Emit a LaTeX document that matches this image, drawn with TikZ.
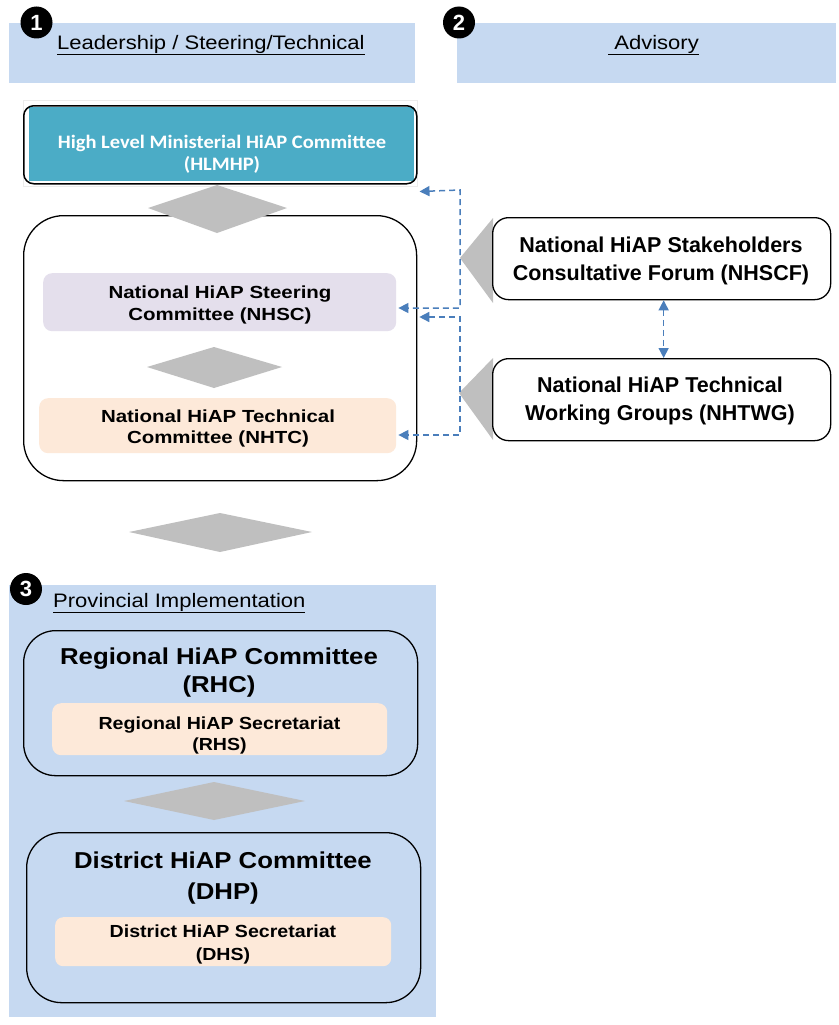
\documentclass[tikz,border=0pt]{standalone}
\usepackage{fontspec}
\setmainfont{Liberation Sans}
\newfontfamily\hdrfont[FakeStretch=1.13]{Liberation Sans}
\newfontfamily\natfont[FakeStretch=1.17]{Liberation Sans}
\newfontfamily\regfont[FakeStretch=1.12]{Liberation Sans}
\newfontfamily\calfont[FakeStretch=1.08]{Carlito}
\usetikzlibrary{arrows.meta,calc}
\definecolor{hdrblue}{HTML}{C6D9F1}
\definecolor{tealfill}{HTML}{4BACC6}
\definecolor{lavfill}{HTML}{E4DFEC}
\definecolor{peachfill}{HTML}{FDE9D9}
\definecolor{dgray}{HTML}{BFBFBF}
\definecolor{cblue}{HTML}{4A7EBB}
\begin{document}
\begin{tikzpicture}[x=1pt,y=-1pt,
  hdrbox/.style={fill=hdrblue, draw=none, inner sep=0, anchor=north west},
  badge/.style={circle, fill=black, text=white, inner sep=0, minimum size=32,
    font=\fontsize{22}{22}\selectfont\bfseries},
  frame/.style={draw=black, line width=1.3pt, inner sep=0, anchor=north west},
  softbox/.style={draw=none, inner sep=0, anchor=north west, rounded corners=9},
  lbl/.style={align=center, inner sep=0},
  dgm/.style={fill=dgray},
  conn/.style={draw=cblue, line width=1.5pt, dash pattern=on 6pt off 4pt,
    {Triangle[length=10pt,width=10pt]}-{Triangle[length=10pt,width=10pt]}},
]
\useasboundingbox (0,0) rectangle (838,1025);

% ---------- headers ----------
\node[hdrbox, minimum width=406, minimum height=60] (h1) at (9,23) {};
\node[hdrbox, minimum width=379, minimum height=60] (h2) at (457,23) {};
\node[anchor=base west, inner sep=0, font=\hdrfont\fontsize{19.5}{22}\selectfont] (h1t) at (57,49) {\underline{Leadership / Steering/Technical}};
\node[anchor=base west, inner sep=0, font=\hdrfont\fontsize{19.5}{22}\selectfont] (h2t) at (608,49) {\underline{ Advisory}};
\node[badge] (b1) at (36.5,22.5) {1};
\node[badge] (b2) at (459,22.5) {2};

% ---------- HLMHP ----------
\node[draw=gray!15, fill=white, line width=0.6pt, inner sep=0, anchor=north west,
  minimum width=394, minimum height=86] (hlback) at (23,100) {};
\fill[tealfill] (29,107) rectangle (414,181);
\node[frame, rounded corners=10, line width=1.5pt, minimum width=393, minimum height=78] (hl) at (23,105) {};
\node[lbl, text=white, font=\calfont\bfseries\fontsize{19}{22}\selectfont] (hlt) at (222,154)
  {High Level Ministerial HiAP Committee\\(HLMHP)};

% ---------- national box ----------
\node[frame, fill=white, rounded corners=40, minimum width=393, minimum height=265] (big) at (23,215) {};
\node[softbox, fill=lavfill, minimum width=353, minimum height=58] (nhsc) at (43,273) {};
\node[lbl, font=\natfont\bfseries\fontsize{17.5}{22}\selectfont] (nhsct) at (220,304.5)
  {National HiAP Steering\\Committee (NHSC)};
\node[softbox, fill=peachfill, minimum width=357, minimum height=55] (nhtc) at (39,398) {};
\node[lbl, font=\natfont\bfseries\fontsize{17.5}{21}\selectfont] (nhtct) at (218,428)
  {National HiAP Technical\\Committee (NHTC)};

\fill[dgm] (148,208) -- (217,185) -- (287,208) -- (217,233) -- cycle;
\fill[dgm] (147,367) -- (214,347) -- (282,367) -- (214,388) -- cycle;
\fill[dgm] (129,532) -- (220,513) -- (312,532) -- (220,552) -- cycle;

% ---------- advisory ----------
\fill[dgm] (460,258) -- (493,218) -- (493,303) -- cycle;
\fill[dgm] (459,393) -- (493,358) -- (493,440) -- cycle;
\node[frame, fill=white, rounded corners=16, minimum width=338, minimum height=82] (nhscf) at (492,217) {};
\node[lbl, font=\bfseries\fontsize{21.5}{28}\selectfont] (nhscft) at (661,261.4)
  {National HiAP Stakeholders\\Consultative Forum (NHSCF)};
\node[frame, fill=white, rounded corners=16, minimum width=338, minimum height=82] (nhtwg) at (492,358) {};
\node[lbl, font=\bfseries\fontsize{21.5}{28}\selectfont] (nhtwgt) at (660,401.4)
  {National HiAP Technical\\Working Groups (NHTWG)};

% ---------- dashed connectors ----------
\coordinate (c1s) at ($(hl.south east)+(2,7)$);
\coordinate (c1a) at (460,190);
\coordinate (c1b) at (460,308);
\coordinate (c1e) at ($(nhsc.east |- c1b)+(2,0)$);
\draw[conn] (c1s) -- (c1a) -- (c1b) -- (c1e);
\coordinate (c2s) at ($(big.east |- 0,317)+(2,0)$);
\coordinate (c2a) at (460,317);
\coordinate (c2b) at (460,435);
\coordinate (c2e) at ($(nhtc.east |- c2b)+(2,0)$);
\draw[conn] (c2s) -- (c2a) -- (c2b) -- (c2e);
\draw[conn] ([xshift=2pt]nhscf.south) -- ([xshift=2pt]nhtwg.north);

% ---------- provincial ----------
\node[hdrbox, minimum width=427, minimum height=432] (prov) at (9,585) {};
\node[anchor=base west, inner sep=0, font=\hdrfont\fontsize{19.5}{22}\selectfont] (provt) at (53,607) {\underline{Provincial Implementation}};
\node[badge] (b3) at (26,589) {3};

\node[frame, rounded corners=32, minimum width=394, minimum height=145] (rhc) at (23,630) {};
\node[lbl, font=\regfont\bfseries\fontsize{23}{28}\selectfont] (rhct) at (219,673)
  {Regional HiAP Committee\\(RHC)};
\node[softbox, fill=peachfill, minimum width=335, minimum height=52] (rhs) at (52,703) {};
\node[lbl, font=\regfont\bfseries\fontsize{17.5}{21}\selectfont] (rhst) at (219.5,735)
  {Regional HiAP Secretariat\\(RHS)};

\fill[dgm] (124,801) -- (214,782) -- (305,801) -- (214,820) -- cycle;

\node[frame, rounded corners=35, minimum width=394, minimum height=170] (dhp) at (26,832) {};
\node[lbl, font=\regfont\bfseries\fontsize{23}{31}\selectfont] (dhpt) at (223,878.5)
  {District HiAP Committee\\(DHP)};
\node[softbox, fill=peachfill, minimum width=336, minimum height=49, rounded corners=8] (dhs) at (55,917) {};
\node[lbl, font=\regfont\bfseries\fontsize{17.5}{23}\selectfont] (dhst) at (223,944)
  {District HiAP Secretariat\\(DHS)};
\end{tikzpicture}
\end{document}
